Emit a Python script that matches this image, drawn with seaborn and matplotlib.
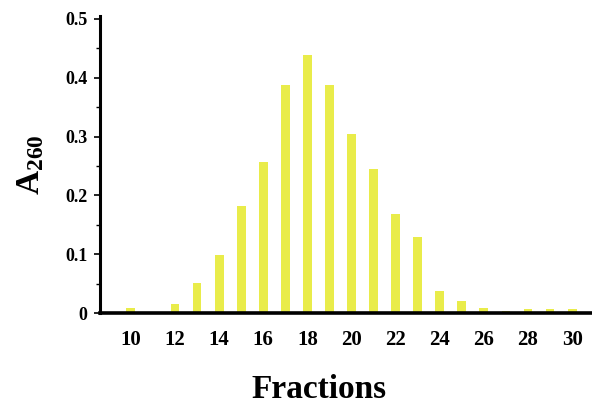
import numpy as np
import pandas as pd
import matplotlib
matplotlib.use("Agg")
import matplotlib.pyplot as plt
from matplotlib.ticker import MultipleLocator
import seaborn as sns

# 数据
fractions = list(range(10, 31))
a260 = [0.008, 0.0, 0.015, 0.051, 0.099, 0.182, 0.256, 0.388, 0.438, 0.388,
        0.305, 0.245, 0.168, 0.130, 0.038, 0.020, 0.008, 0.004, 0.007, 0.007, 0.007]
xticks = list(range(10, 31, 2))
bar_color = "#E9EC4A"

sns.set_style("ticks", {'axes.edgecolor': 'black', 'text.color': 'black',
                        'xtick.color': 'black', 'ytick.color': 'black',
                        'axes.labelcolor': 'black'})
plt.rcParams['font.family'] = ['Liberation Serif', 'DejaVu Serif']
plt.rcParams['mathtext.fontset'] = 'custom'
plt.rcParams['mathtext.bf'] = 'Liberation Serif:bold'
plt.rcParams['mathtext.rm'] = 'Liberation Serif:bold'

df = pd.DataFrame({'Fraction': fractions, 'A260': a260})

fig = plt.figure(figsize=(5.92, 4.07), dpi=100)
ax = fig.add_axes([100 / 592, 1 - 313 / 407, 492 / 592, 297 / 407])

sns.barplot(data=df, x='Fraction', y='A260', native_scale=True, width=0.4,
            color=bar_color, saturation=1, edgecolor='none', ax=ax)

ax.set_xlim(8.6, 30.9)
ax.set_ylim(0, 0.505)
ax.set_xticks(xticks)
ax.set_xticklabels([str(t) for t in xticks], fontsize=15, fontweight='bold')
ax.yaxis.set_major_locator(MultipleLocator(0.1))
ax.yaxis.set_minor_locator(MultipleLocator(0.05))
ax.set_yticks([0, 0.1, 0.2, 0.3, 0.4, 0.5])
ax.set_yticklabels(['0', '0.1', '0.2', '0.3', '0.4', '0.5'], fontsize=13, fontweight='bold')
ax.tick_params(axis='x', length=0, pad=12)
ax.tick_params(axis='y', which='major', length=4, width=1.2, direction='out', pad=5)
ax.tick_params(axis='y', which='minor', length=3, width=1.0, direction='out')

sns.despine(ax=ax)
ax.spines['left'].set_linewidth(2.2)
ax.spines['bottom'].set_linewidth(2.6)

ax.set_xlabel('Fractions', fontsize=24, fontweight='bold')
ax.xaxis.set_label_coords(0.445, -0.205)
ax.set_ylabel(r'$\mathbf{A_{260}}$', fontsize=24)
ax.yaxis.set_label_coords(-0.11, 0.5)

fig.savefig('out.png', dpi=100)
